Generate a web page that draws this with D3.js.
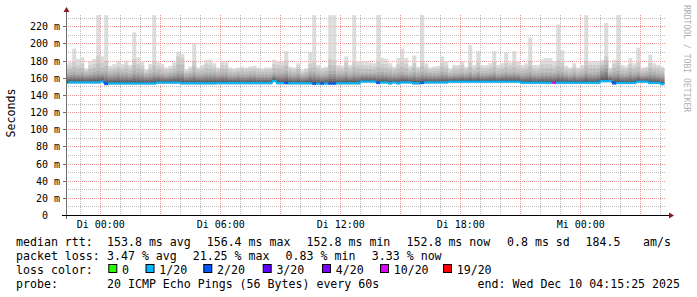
<!DOCTYPE html>
<html><head><meta charset="utf-8">
<script src="https://cdn.jsdelivr.net/npm/d3@7"></script>
<style>body{margin:0;background:#fff} text{font-family:"DejaVu Sans Mono",monospace}</style>
</head><body><svg id="c" width="697" height="297"></svg>
<script>
// ---- data (one value per 12-minute column) ----
const rttMax=[176,178,194,182,184,171,179,182,233,185,233,174,176,180,176,180,175,213,184,179,
170,176,233,178,176,172,174,178,190,188,170,173,200,172,175,181,181,177,172,180,
178,172,171,172,173,172,173,174,172,171,172,172,181,179,179,191,173,172,177,169,
171,190,233,175,172,173,233,233,175,174,185,175,233,179,179,179,178,177,233,183,
182,177,173,183,194,183,174,186,173,233,177,172,173,174,185,179,171,175,175,179,
173,198,175,191,175,175,177,191,175,177,189,178,191,179,175,177,207,175,175,181,
183,183,179,222,192,174,172,177,172,175,233,179,179,179,181,224,172,181,233,175,
174,183,177,195,172,173,187,177,175,173];
const rttHi=[172,174,178,175,176,169,174,176,185,177,180,171,172,174,172,175,172,182,176,174,
168,172,180,174,172,170,171,174,185,183,168,170,180,170,172,176,175,173,170,175,
174,170,169,170,171,170,171,171,170,169,170,170,176,175,174,180,171,170,173,167,
169,176,178,172,170,171,182,180,172,171,178,172,178,175,175,174,174,173,179,176,
176,173,171,176,178,176,171,177,171,180,173,170,171,171,177,174,169,172,172,175,
171,178,172,178,172,172,173,178,172,173,177,174,178,174,172,173,180,172,172,176,
176,176,174,180,178,171,170,173,170,172,180,175,175,175,178,185,170,176,180,172,
171,176,173,178,170,171,177,173,172,171];
const rttMid=[166,166,167,166,167,165,166,167,168,167,168,165,166,167,166,166,165,168,167,166,
164,165,167,166,165,164,165,166,168,168,164,165,167,165,165,166,166,166,165,166,
166,164,164,165,164,164,165,165,164,164,164,164,166,166,166,168,165,164,166,163,
164,167,167,165,164,165,168,168,165,165,167,165,167,166,166,166,166,166,167,167,
166,166,165,166,167,166,165,167,165,167,166,165,165,165,167,166,164,165,165,166,
165,167,165,167,165,165,166,167,165,166,167,166,167,166,165,166,167,165,165,166,
166,166,166,168,167,165,164,166,164,165,168,166,166,167,172,175,165,167,168,165,
165,167,166,167,164,165,167,166,165,164];
const rttMed=[154.6,154.6,154.6,154.6,154.6,154.6,154.6,154.6,154.6,155.6,152.8,153.4,153.4,153.4,153.4,153.4,153.4,153.4,153.4,153.4,
153.4,153.4,153.4,154.4,154.4,154.4,154.4,154.4,154.4,153.6,153.6,153.6,153.6,153.6,153.6,153.6,153.6,153.6,153.8,153.8,
153.8,153.8,153.8,153.8,153.8,153.8,153.8,153.8,153.8,153.8,153.8,153.8,156.4,153.8,153.8,153.8,153.6,153.6,153.6,153.6,
153.6,153.6,153.0,153.2,153.2,153.2,153.2,153.2,153.6,153.6,153.6,153.6,153.6,153.6,155.6,155.6,155.6,155.6,154.0,154.6,
154.6,153.6,154.6,153.6,154.6,154.6,154.6,153.6,153.6,154.0,154.6,154.6,154.6,154.6,154.6,154.6,155.4,155.4,155.4,155.4,
155.4,155.4,155.4,155.4,155.4,155.4,155.4,155.4,155.4,155.4,155.4,155.4,155.4,155.4,154.2,154.2,154.2,154.2,154.2,154.2,
154.2,154.2,154.2,154.2,154.2,154.2,154.2,154.2,154.2,154.2,154.2,154.2,154.2,154.2,156.2,156.2,156.2,153.5,154.0,154.0,
154.0,154.0,154.0,155.5,155.5,155.5,154.0,154.0,154.0,152.8];
const lossIdx=[2,1,1,1,1,1,1,1,1,1,2,1,1,1,1,1,1,1,1,1,
1,1,1,1,1,1,1,1,1,1,1,1,1,1,1,1,1,1,1,1,
1,1,1,1,1,1,1,1,1,1,1,1,1,1,1,2,1,1,1,1,
1,1,2,1,2,1,2,2,1,1,1,1,1,1,1,1,1,1,2,1,
1,1,1,1,1,1,1,1,1,2,1,1,1,1,1,1,1,1,1,1,
1,1,1,1,1,1,1,1,1,1,1,1,1,1,1,1,1,1,1,1,
1,1,5,1,1,1,1,1,1,1,1,1,1,1,1,1,1,2,1,1,
1,1,1,1,1,1,1,1,1,1];
const lossLabels=["0","1/20","2/20","3/20","4/20","10/20","19/20"];
const lossColors=["#26ff00","#00b8ff","#0059ff","#5e00ff","#7e00ff","#dd00ff","#ff0000"];
const yTickValues=[20,40,60,80,100,120,140,160,180,200,220];
const xTickLabels=["Di 00:00","Di 06:00","Di 12:00","Di 18:00","Mi 00:00"];
const legendRows=[
 ["median rtt:","153.8 ms avg","156.4 ms max","152.8 ms min","152.8 ms now","0.8 ms sd","184.5","am/s"],
 ["packet loss:","3.47 % avg","21.25 % max","0.83 % min","3.33 % now"],
 ["probe:","20 ICMP Echo Pings (56 Bytes) every 60s"]];
const endLabel="end: Wed Dec 10 04:15:25 2025";

// ---- layout ----
const svg=d3.select("#c");
svg.append("rect").attr("width",697).attr("height",297).attr("fill","#fff");
const tStart=new Date(2025,11,8,22,15,25), tEnd=new Date(2025,11,10,4,15,25);
const x=d3.scaleTime().domain([tStart,tEnd]).range([65.4,665.4]);
const y=d3.scaleLinear().domain([0,233.2]).range([215,15]);
const col0=new Date(2025,11,8,22,12,0);
const colT=j=>new Date(+col0+j*12*60000);
const L=66,R=666;

// grid (behind)
const grid=svg.append("g");
for(let v=10;v<=230;v+=10){
  const major=v%20===0;
  grid.append("line").attr("x1",L).attr("x2",R).attr("y1",Math.round(y(v))+0.5).attr("y2",Math.round(y(v))+0.5)
   .attr("stroke",major?"rgba(225,80,80,0.5)":"rgba(150,150,150,0.55)").attr("stroke-dasharray","1,1");
}
d3.timeHour.range(d3.timeHour.ceil(tStart),tEnd).forEach(t=>{
  const major=t.getHours()%3===0;
  const px=Math.round(x(t))+0.5;
  grid.append("line").attr("x1",px).attr("x2",px).attr("y1",15).attr("y2",215)
   .attr("stroke",major?"rgba(225,80,80,0.5)":"rgba(150,150,150,0.55)").attr("stroke-dasharray","1,1");
});

const g=svg.append("g");
const grays=["#dcdcdc","#cdcdcd","#bebebe","#adadad","#9a9a9a","#858585","#6e6e6e","#585858"];
rttMax.forEach((mx,j)=>{
  const med=rttMed[j],hi=rttHi[j],mid=rttMid[j];
  const x0=Math.max(L+0.5,x(colT(j))),x1=Math.min(R,x(colT(j+1)));
  if(x1<=x0)return;
  const bands=[[med-1.8,mx],[med-1.4,hi],[med-1.0,(hi+mid)/2],[med-0.6,mid],
    [med-0.3,med+(mid-med)*0.75],[med,med+(mid-med)*0.55],[med,med+(mid-med)*0.35],[med,med+(mid-med)*0.18]];
  bands.forEach((b,k)=>{
    g.append("rect").attr("x",x0).attr("width",x1-x0)
     .attr("y",y(b[1])).attr("height",y(b[0])-y(b[1])).attr("fill",grays[k]);
  });
});
// grid dots faintly visible through smoke
svg.append("g").attr("opacity",0.35).node().appendChild(grid.node().cloneNode(true));

// median line
const ml=svg.append("g");
rttMed.forEach((m,j)=>{
  const x0=Math.max(L+0.5,x(colT(j))),x1=Math.min(R,x(colT(j+1)));
  ml.append("line").attr("x1",x0).attr("x2",x1).attr("y1",y(m)).attr("y2",y(m))
   .attr("stroke",lossColors[lossIdx[j]]).attr("stroke-width",2.2);
  if(j>0&&rttMed[j-1]!==m){
    ml.append("line").attr("x1",x0).attr("x2",x0).attr("y1",y(rttMed[j-1])).attr("y2",y(m))
     .attr("stroke",lossColors[lossIdx[j]]).attr("stroke-width",1.5);
  }
});

// axes
const ax=svg.append("g");
ax.append("line").attr("x1",66.5).attr("x2",66.5).attr("y1",219).attr("y2",11).attr("stroke","#707070");
ax.append("path").attr("d","M63.5,12 L69.5,12 L66.5,7 Z").attr("fill","#8b1a1a");
ax.append("line").attr("x1",62).attr("x2",670).attr("y1",215.5).attr("y2",215.5).attr("stroke","#000");
ax.append("path").attr("d","M669,212.5 L669,218.5 L674,215.5 Z").attr("fill","#8b1a1a");
yTickValues.forEach(v=>{
  const py=Math.round(y(v))+0.5;
  ax.append("line").attr("x1",63).attr("x2",66).attr("y1",py).attr("y2",py).attr("stroke","#707070");
  ax.append("text").attr("x",60).attr("y",py+3.5).attr("text-anchor","end").attr("font-size",10).attr("fill","#000").text(v+" m");
});
ax.append("text").attr("x",48).attr("y",y(0)+3.5).attr("text-anchor","end").attr("font-size",10).text("0");
d3.timeHour.every(6).range(d3.timeHour.ceil(tStart),tEnd).forEach((t,i)=>{
  ax.append("text").attr("x",x(t)+0.5).attr("y",228).attr("text-anchor","middle").attr("font-size",10).text(xTickLabels[i]);
});
svg.append("text").attr("transform","translate(15,113) rotate(-90)").attr("text-anchor","middle")
  .attr("font-size",11.6).text("Seconds");
svg.append("text").attr("transform","translate(684,5) rotate(90)").attr("font-size",8.1).attr("fill","#b0b0b0").text("RRDTOOL / TOBI OETIKER");

// legend
const lg=svg.append("g").attr("font-size",11.6);
const row1X=[16,107,206.7,306.6,406.5,507,585.5,643];
legendRows[0].forEach((s,i)=>lg.append("text").attr("x",row1X[i]).attr("y",245.5).text(s));
const row2X=[16,107,192.7,285.6,371.8];
legendRows[1].forEach((s,i)=>lg.append("text").attr("x",row2X[i]).attr("y",259.5).text(s));
lg.append("text").attr("x",16).attr("y",273.5).text("loss color:");
const sqX=[108.3,145.5,203.3,262.7,322,380,443];
lossLabels.forEach((s,i)=>{
  lg.append("rect").attr("x",sqX[i]+0.5).attr("y",264.5).attr("width",8).attr("height",8)
    .attr("fill",lossColors[i]).attr("stroke","#000").attr("stroke-width",1);
  lg.append("text").attr("x",sqX[i]+13.7).attr("y",273.5).text(s);
});
const row4X=[16,107];
legendRows[2].forEach((s,i)=>lg.append("text").attr("x",row4X[i]).attr("y",287.5).text(s));
lg.append("text").attr("x",680).attr("y",287.5).attr("text-anchor","end").text(endLabel);
</script></body></html>
